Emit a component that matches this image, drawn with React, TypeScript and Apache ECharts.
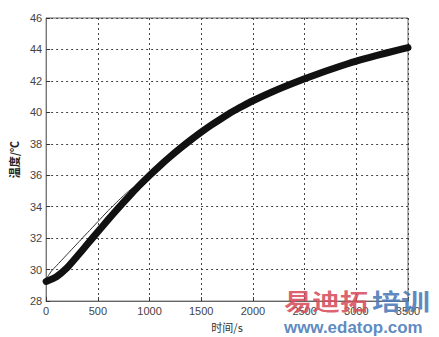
import React, { useEffect, useRef } from "react";
import * as echarts from "echarts";

const thickX = [0, 100, 200, 300, 400, 500, 600, 700, 800, 900, 1000, 1100, 1200, 1300, 1400, 1500, 1600, 1700, 1800, 1900, 2000, 2200, 2400, 2600, 2800, 3000, 3200, 3400, 3500];
const thickY = [29.25, 29.55, 30.1, 30.85, 31.63, 32.41, 33.18, 33.93, 34.65, 35.34, 35.99, 36.6, 37.18, 37.73, 38.25, 38.74, 39.2, 39.63, 40.04, 40.4, 40.74, 41.34, 41.88, 42.38, 42.84, 43.26, 43.62, 43.96, 44.12];
const thinX = [0, 50, 100, 200, 300, 400, 500, 600, 700, 800, 900, 1000];
const thinY = [29.4, 29.9, 30.25, 30.95, 31.65, 32.35, 33.05, 33.75, 34.4, 35.0, 35.5, 36.0];

const xLabel = "时间/s";
const yLabel = "温度/℃";

export default function App() {
  const ref = useRef<HTMLDivElement>(null);
  useEffect(() => {
    if (!ref.current) return;
    const chart = echarts.init(ref.current, null, { renderer: "svg" });
    const gridColor = "#444";
    chart.setOption({
      animation: false,
      backgroundColor: "#fff",
      grid: { left: 45, right: 31, top: 18, bottom: 32, show: true, borderColor: "#666", borderWidth: 1, backgroundColor: "transparent" },
      xAxis: {
        type: "value", min: 0, max: 3500, interval: 500,
        name: xLabel, nameLocation: "middle", nameGap: 17,
        nameTextStyle: { fontSize: 11, color: "#333", fontFamily: "Noto Sans CJK SC" },
        axisLine: { show: true, lineStyle: { color: "#666" } },
        axisTick: { show: true, inside: true, length: 4, lineStyle: { color: "#333" } },
        axisLabel: { fontSize: 11, color: "#444", fontFamily: "Liberation Sans", margin: 4, formatter: (v: number) => String(v) },
        splitLine: { show: true, lineStyle: { color: gridColor, type: [2, 3], width: 1 } },
      },
      yAxis: {
        type: "value", min: 28, max: 46, interval: 2,
        name: yLabel, nameLocation: "middle", nameGap: 23, nameRotate: 90,
        nameTextStyle: { fontSize: 11, color: "#222", fontFamily: "Noto Sans CJK SC", fontWeight: "bold" },
        axisLine: { show: true, lineStyle: { color: "#777" } },
        axisTick: { show: true, inside: true, length: 4, lineStyle: { color: "#333" } },
        axisLabel: { fontSize: 11, color: "#444", fontFamily: "Liberation Sans", margin: 4 },
        splitLine: { show: true, lineStyle: { color: gridColor, type: [2, 3], width: 1 } },
      },
      series: [
        {
          type: "line", showSymbol: false, smooth: 0.2, z: 3,
          data: thinX.map((x, i) => [x, thinY[i]]),
          lineStyle: { color: "#333", width: 1 },
        },
        {
          type: "line", showSymbol: false, smooth: 0.2, z: 4,
          data: thickX.map((x, i) => [x, thickY[i]]),
          lineStyle: { color: "#111", width: 7, cap: "round", join: "round" },
        },
      ],
      graphic: [
        { type: "text", x: 284, y: 289, z: 100, scaleY: 0.8, style: { text: "易迪拓", font: "bold 28px 'Noto Sans CJK SC'", fill: "rgba(214,78,92,0.88)", textVerticalAlign: "top" } },
        { type: "text", x: 372, y: 289, z: 100, scaleY: 0.8, style: { text: "培训", font: "bold 29px 'Noto Sans CJK SC'", fill: "rgba(74,122,182,0.88)", textVerticalAlign: "top" } },
        { type: "text", x: 284, y: 327, z: 100, scaleX: 1.06, style: { text: "www.edatop.com", font: "bold 16px 'Liberation Sans'", lineHeight: 14, fill: "rgba(80,128,186,0.92)", textVerticalAlign: "middle" } },
      ],
    });
    return () => chart.dispose();
  }, []);
  return <div ref={ref} style={{ width: 439, height: 337, position: "absolute", left: 0, top: 0 }} />;
}
